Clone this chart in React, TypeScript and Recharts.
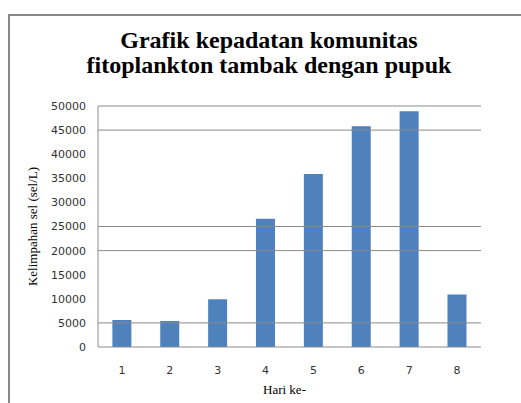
import { BarChart, Bar, XAxis, YAxis, ReferenceLine } from 'recharts';

const days = ['1', '2', '3', '4', '5', '6', '7', '8'];
const density = [5600, 5400, 9900, 26600, 35900, 45800, 48900, 10900];
const yTicks = [0, 5000, 10000, 15000, 20000, 25000, 30000, 35000, 40000, 45000, 50000];
// only these gridlines are visible in the source picture
const gridValues = [5000, 20000, 25000, 45000, 50000];

const data = days.map((day, i) => ({ day, value: density[i] }));

const barColor = '#4f81bd';
const gridColor = '#8a8a8a';

export default function App() {
  return (
    <div
      style={{
        position: 'absolute',
        left: 0,
        top: 0,
        width: 521,
        height: 403,
        overflow: 'hidden',
        background: '#fff',
      }}
    >
      <div
        style={{
          position: 'absolute',
          left: 8,
          top: 14,
          width: 600,
          height: 500,
          border: '2px solid #888',
        }}
      />
      <div
        style={{
          position: 'absolute',
          left: 0,
          top: 28,
          width: 538,
          textAlign: 'center',
          fontFamily: '"Liberation Serif", serif',
          fontWeight: 'bold',
          fontSize: 24,
          lineHeight: '25px',
          color: '#000',
        }}
      >
        Grafik kepadatan komunitas
        <br />
        fitoplankton tambak dengan pupuk
      </div>
      <div style={{ position: 'absolute', left: 0, top: 0 }}>
        <BarChart
          width={521}
          height={403}
          data={data}
          margin={{ top: 106, right: 40, bottom: 0, left: 0 }}
          barCategoryGap="30%"
        >
          {gridValues.map((v) => (
            <ReferenceLine key={v} y={v} stroke={gridColor} strokeWidth={1} />
          ))}
          <XAxis
            dataKey="day"
            height={56}
            axisLine={{ stroke: gridColor }}
            tickLine={false}
            tickMargin={13}
            tick={{ fontFamily: '"DejaVu Sans", sans-serif', fontSize: 11, fill: '#333' }}
            label={{
              value: 'Hari ke-',
              position: 'insideBottom',
              offset: 9,
              dx: -5,
              style: { fontFamily: '"Liberation Serif", serif', fontSize: 13, fill: '#000' },
            }}
          />
          <YAxis
            width={98}
            domain={[0, 50000]}
            ticks={yTicks}
            interval={0}
            axisLine={{ stroke: gridColor }}
            tickLine={false}
            tickMargin={6}
            tick={{ fontFamily: '"DejaVu Sans", sans-serif', fontSize: 11, fill: '#333' }}
            label={{
              value: 'Kelimpahan sel (sel/L)',
              angle: -90,
              position: 'insideLeft',
              offset: 32,
              style: {
                textAnchor: 'middle',
                fontFamily: '"Liberation Serif", serif',
                fontSize: 13,
                fill: '#000',
              },
            }}
          />
          <Bar dataKey="value" fill={barColor} isAnimationActive={false} />
        </BarChart>
      </div>
    </div>
  );
}
